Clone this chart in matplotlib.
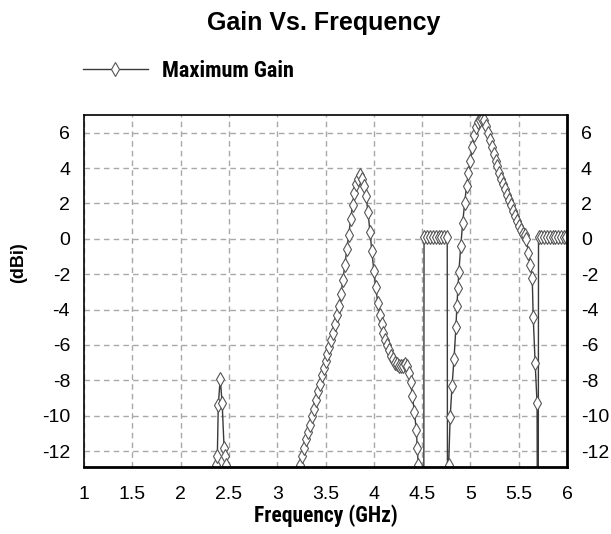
import numpy as np
import matplotlib.pyplot as plt
from matplotlib.lines import Line2D

# Gain sweep (GHz, dBi).
# -30 marks points that fall below the plotted range (clipped at the bottom).
freq_band1 = [2.36, 2.37, 2.38, 2.39, 2.41, 2.43, 2.45, 2.46, 2.47, 2.48]
gain_band1 = [-30, -12.8, -12.3, -9.4, -7.9, -9.3, -11.8, -12.3, -12.8, -30]

freq_band2 = [3.23, 3.24, 3.26, 3.28, 3.30, 3.32, 3.34, 3.36, 3.38, 3.40, 3.42,
              3.44, 3.46, 3.48, 3.50, 3.52, 3.54, 3.56, 3.58, 3.60, 3.62,
              3.64, 3.66, 3.68, 3.70, 3.72, 3.74, 3.76, 3.78, 3.80, 3.82,
              3.84, 3.86, 3.88, 3.90, 3.92, 3.94, 3.96, 3.98, 4.00, 4.02,
              4.04, 4.06, 4.08, 4.10, 4.12, 4.14, 4.16, 4.18, 4.20, 4.22,
              4.24, 4.26, 4.28, 4.30, 4.32, 4.34, 4.36, 4.38, 4.40, 4.42,
              4.44, 4.45, 4.46, 4.515]
gain_band2 = [-30, -12.8, -12.3, -11.8, -11.3, -10.9, -10.5, -10.0, -9.6, -9.1, -8.6,
              -8.2, -7.7, -7.3, -6.9, -6.5, -6.1, -5.7, -5.3, -4.8, -4.3,
              -3.8, -3.1, -2.3, -1.5, -0.6, 0.2, 1.1, 1.9, 2.6, 3.1,
              3.4, 3.6, 3.4, 3.0, 2.4, 1.5, 0.4, -0.7, -1.8, -2.7,
              -3.6, -4.3, -4.8, -5.3, -5.7, -6.0, -6.3, -6.6, -6.8, -7.0,
              -7.1, -7.2, -7.2, -7.2, -7.1, -7.2, -7.6, -8.1, -8.9, -9.8,
              -10.8, -11.8, -12.8, -30]

freq_band3 = [4.52, 4.55, 4.58, 4.61, 4.64, 4.67, 4.70, 4.73, 4.76, 4.765]
gain_band3 = [0.1, 0.1, 0.1, 0.1, 0.1, 0.1, 0.1, 0.1, 0.1, -30]

freq_band4 = [4.775, 4.79, 4.81, 4.83, 4.85, 4.86, 4.87, 4.88, 4.90, 4.92,
              4.94, 4.96, 4.98, 5.00, 5.02, 5.04, 5.06, 5.08, 5.10, 5.12,
              5.14, 5.16, 5.18, 5.20, 5.22, 5.24, 5.26, 5.28, 5.30, 5.32,
              5.34, 5.36, 5.38, 5.40, 5.42, 5.44, 5.46, 5.48, 5.50, 5.52,
              5.54, 5.56, 5.58, 5.60, 5.62, 5.64, 5.65, 5.67, 5.69, 5.70]
gain_band4 = [-12.8, -10.1, -8.3, -6.8, -5.0, -3.8, -2.8, -1.9, -0.4, 0.9,
              2.0, 3.0, 3.7, 4.4, 5.2, 5.9, 6.3, 6.6, 6.7, 6.8,
              6.7, 6.4, 6.0, 5.6, 5.2, 4.8, 4.4, 4.1, 3.7, 3.4,
              3.1, 2.8, 2.5, 2.2, 1.9, 1.6, 1.3, 1.0, 0.7, 0.5,
              0.3, 0.2, 0.0, -0.8, -1.5, -2.2, -4.4, -7.0, -9.3, -30]

freq_band5 = [5.705, 5.73, 5.76, 5.79, 5.82, 5.85, 5.88, 5.91, 5.94, 5.97, 5.99]
gain_band5 = [0.1, 0.1, 0.1, 0.1, 0.1, 0.1, 0.1, 0.1, 0.1, 0.1, 0.1]

x_ticks = [1, 1.5, 2, 2.5, 3, 3.5, 4, 4.5, 5, 5.5, 6]
x_tick_labels = ['1', '1.5', '2', '2.5', '3', '3.5', '4', '4.5', '5', '5.5', '6']
y_ticks = [-12, -10, -8, -6, -4, -2, 0, 2, 4, 6]

freq = np.concatenate([freq_band1, freq_band2, freq_band3, freq_band4, freq_band5])
gain = np.concatenate([gain_band1, gain_band2, gain_band3, gain_band4, gain_band5])

plt.rcParams['font.family'] = ['Liberation Sans', 'DejaVu Sans']
plt.rcParams['axes.unicode_minus'] = False
narrow_font = ['Roboto Condensed', 'Liberation Sans', 'DejaVu Sans']

fig = plt.figure(figsize=(6.11, 5.34), dpi=100)
ax = fig.add_axes([0.1375, 0.1255, 0.7905, 0.659])

line_color = '#3a3a3a'
ax.plot(freq, gain, color=line_color, lw=1.0, marker='d', ms=7,
        mfc='white', mec='#555555', mew=0.8)

ax.set_xlim(1, 6)
ax.set_ylim(-12.9, 7.0)
ax.set_xticks(x_ticks)
ax.set_xticklabels(x_tick_labels)
ax.set_yticks(y_ticks)

ax.grid(True, color='#a8a8a8', linestyle=(0, (4, 3)), lw=1.0)
ax.tick_params(axis='both', length=0, labelsize=14)
ax.tick_params(axis='x', pad=14)
ax.tick_params(axis='y', pad=10, labelright=True)

for side in ['left', 'top']:
    ax.spines[side].set_linewidth(1.2)
for side in ['right', 'bottom']:
    ax.spines[side].set_linewidth(2.0)

ax.set_xlabel('Frequency (GHz)', fontsize=15.5, fontweight='bold',
              family=narrow_font)
ax.xaxis.set_label_coords(0.5, -0.105)
ax.set_ylabel('(dBi)', fontsize=13, fontweight='bold')
ax.yaxis.set_label_coords(-0.118, 0.582)

fig.text(0.529, 0.944, 'Gain Vs. Frequency', ha='center', va='baseline',
         fontsize=18, fontweight='bold')

# Legend at top-left like the original
handle = Line2D([], [], color=line_color, lw=1.0, marker='d', ms=7,
                mfc='white', mec='#555555', mew=0.8)
fig.legend([handle], ['Maximum Gain'], loc='center left',
           bbox_to_anchor=(0.136, 0.867), frameon=False, handlelength=2.9,
           handletextpad=0.63, borderaxespad=0, borderpad=0,
           prop={'size': 16, 'weight': 'bold', 'family': narrow_font})

plt.savefig('out.png', dpi=100, facecolor='white')
